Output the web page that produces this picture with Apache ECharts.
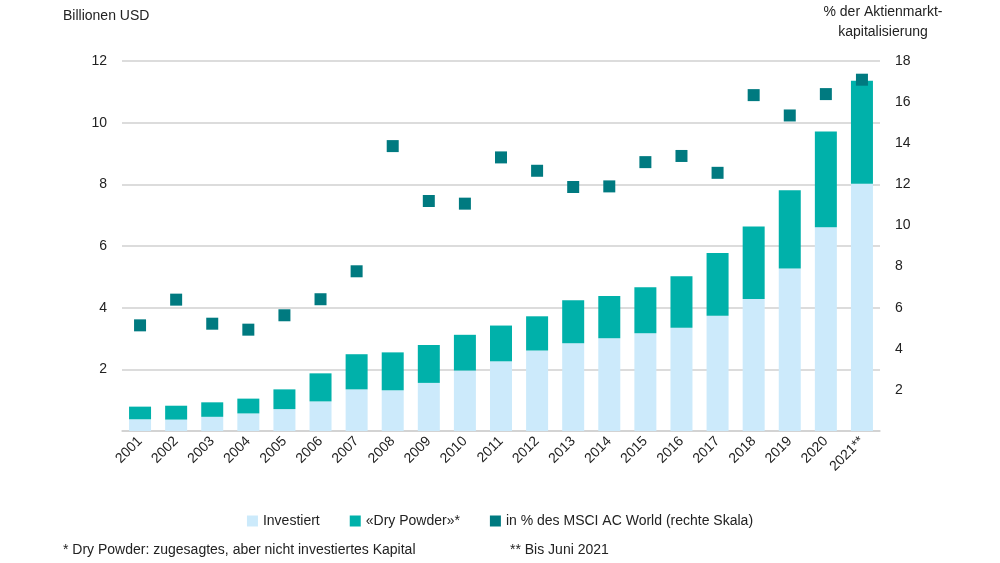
<!DOCTYPE html>
<html>
<head>
<meta charset="utf-8">
<script src="https://cdn.jsdelivr.net/npm/echarts@6/dist/echarts.min.js"></script>
<style>
  html, body { margin: 0; padding: 0; background: #fff; }
  #chart { width: 1000px; height: 563px; }
</style>
</head>
<body>
<div id="chart"></div>
<script>
var years = ["2001", "2002", "2003", "2004", "2005", "2006", "2007", "2008", "2009", "2010", "2011",
  "2012", "2013", "2014", "2015", "2016", "2017", "2018", "2019", "2020", "2021**"];
// Billionen USD
var investiert = [0.38, 0.37, 0.46, 0.57, 0.71, 0.96, 1.35, 1.32, 1.56, 1.96, 2.26,
  2.61, 2.85, 3.01, 3.17, 3.35, 3.74, 4.28, 5.27, 6.61, 8.02];
var dryPowder = [0.41, 0.45, 0.47, 0.48, 0.64, 0.91, 1.14, 1.23, 1.23, 1.16, 1.16,
  1.11, 1.39, 1.37, 1.49, 1.67, 2.03, 2.35, 2.54, 3.10, 3.34];
// % der Aktienmarktkapitalisierung
var msciAnteil = [5.14, 6.39, 5.22, 4.93, 5.63, 6.41, 7.77, 13.86, 11.19, 11.06, 13.31,
  12.66, 11.87, 11.9, 13.08, 13.38, 12.56, 16.34, 15.35, 16.39, 17.09];

var font = "'Liberation Sans', Arial, sans-serif";
var txt = "#222";

var myChart = echarts.init(document.getElementById("chart"));
myChart.setOption({
  animation: false,
  textStyle: { fontFamily: font, color: txt },
  grid: { left: 122, right: 120, top: 61, bottom: 132 },
  legend: {
    bottom: 30,
    left: "center",
    itemWidth: 11,
    itemHeight: 11,
    itemGap: 30,
    icon: "rect",
    textStyle: { fontFamily: font, fontSize: 14, color: txt },
    data: ["Investiert", "«Dry Powder»*", "in % des MSCI AC World (rechte Skala)"]
  },
  graphic: [
    { type: "text", left: 63, top: 9, style: { text: "Billionen USD", font: "14px " + font, fill: txt } },
    { type: "text", style: { x: 883, y: 5, text: "% der Aktienmarkt-", font: "14px " + font, fill: txt, align: "center" } },
    { type: "text", style: { x: 883, y: 25, text: "kapitalisierung", font: "14px " + font, fill: txt, align: "center" } },
    { type: "text", left: 63, top: 543, style: { text: "* Dry Powder: zugesagtes, aber nicht investiertes Kapital", font: "14px " + font, fill: txt } },
    { type: "text", left: 510, top: 543, style: { text: "** Bis Juni 2021", font: "14px " + font, fill: txt } }
  ],
  xAxis: {
    type: "category",
    data: years,
    axisLine: { lineStyle: { color: "#d0d0d0", width: 1.5 } },
    axisTick: { show: false },
    axisLabel: { rotate: 45, margin: 8, fontSize: 14, color: txt, fontFamily: font }
  },
  yAxis: [
    {
      type: "value",
      min: 0,
      max: 12,
      interval: 2,
      axisLine: { show: false },
      axisTick: { show: false },
      splitLine: { lineStyle: { color: "#d0d0d0", width: 1.5 } },
      axisLabel: {
        margin: 15, fontSize: 14, color: txt, fontFamily: font,
        formatter: function (v) { return v === 0 ? "" : v; }
      }
    },
    {
      type: "value",
      min: 0,
      max: 18,
      interval: 2,
      position: "right",
      axisLine: { show: false },
      axisTick: { show: false },
      splitLine: { show: false },
      axisLabel: {
        margin: 15, fontSize: 14, color: txt, fontFamily: font,
        formatter: function (v) { return v === 0 ? "" : v; }
      }
    }
  ],
  series: [
    {
      name: "Investiert",
      type: "bar",
      stack: "kapital",
      barWidth: 22,
      data: investiert,
      itemStyle: { color: "#cceafb" }
    },
    {
      name: "«Dry Powder»*",
      type: "bar",
      stack: "kapital",
      barWidth: 22,
      data: dryPowder,
      itemStyle: { color: "#00b1aa" }
    },
    {
      name: "in % des MSCI AC World (rechte Skala)",
      type: "scatter",
      yAxisIndex: 1,
      symbol: "rect",
      symbolSize: 12,
      data: msciAnteil,
      itemStyle: { color: "#007a80", opacity: 1 },
      z: 5
    }
  ]
});
</script>
</body>
</html>
